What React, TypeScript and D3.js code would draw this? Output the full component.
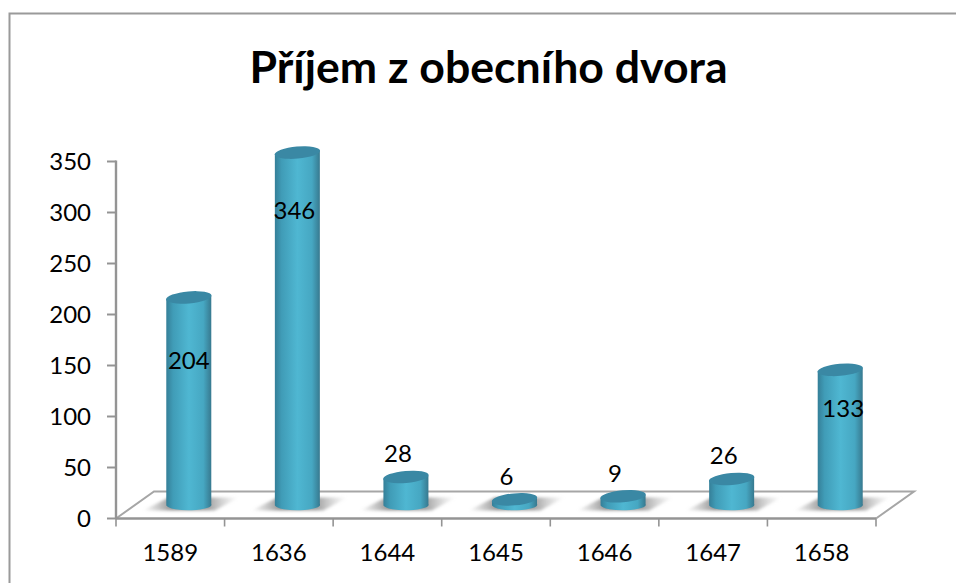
import React from "react";
import * as d3 from "d3";

const title = "Příjem z obecního dvora";
const categories = ["1589", "1636", "1644", "1645", "1646", "1647", "1658"];
const values = [204, 346, 28, 6, 9, 26, 133];
const yTicks = [0, 50, 100, 150, 200, 250, 300, 350];

const W = 956, H = 583;
const axisX0 = 116, axisX1 = 876, axisY0 = 518.5, axisY1 = 161.5;
const depthX = 38, depthY = 27;
const barShift = 18.5;
const baseY = 505.5;
const font = "Lato, 'Open Sans', sans-serif";

// label placement, read per bar from the picture: [dx from bar centre, dy from bar top]
const insideLabelOffset: Record<number, [number, number]> = { 204: [0, 63], 346: [-3, 57], 133: [3, 38] };

const y = d3.scaleLinear().domain([0, 350]).range([axisY0, axisY1]);
const x = d3.scaleBand<string>().domain(categories).range([axisX0, axisX1]);
const barCx = (cat: string) => x(cat)! + x.bandwidth() / 2 + barShift;
const barTop = (v: number) => baseY - (y(0) - y(v));

function Bar({ v, cat }: { v: number; cat: string }) {
  const cx = barCx(cat);
  const rx = 22.5, ry = 5.5;
  const topY = barTop(v);
  const tilt = -5;
  const body = `M${cx - rx},${topY + 1.5} L${cx - rx},${baseY} A${rx},${ry} 0 0 0 ${cx + rx},${baseY - 1.5} L${cx + rx},${topY - 1.5} Z`;
  return (
    <g>
      <path
        d={`M${cx - 46},${baseY + 5} L${cx - 20},${baseY - 8} L${cx + 50},${baseY - 8} L${cx + 26},${baseY + 5} Z`}
        fill="url(#shadow)"
        filter="url(#blur)"
      />
      <path d={body} fill="url(#cyl)" />
      <ellipse cx={cx} cy={topY} rx={rx + 0.3} ry={ry + 0.5} fill="#3a88a4" transform={`rotate(${tilt} ${cx} ${topY})`} />
    </g>
  );
}

const labelPos = (v: number, cat: string) => {
  const cx = barCx(cat);
  const top = barTop(v);
  const inside = insideLabelOffset[v];
  return inside ? { lx: cx + inside[0], ly: top + inside[1] } : { lx: cx - 8, ly: top - 23.5 };
};

export default function App() {
  return (
    <svg width={W} height={H} viewBox={`0 0 ${W} ${H}`} style={{ position: "absolute", left: 0, top: 0, background: "#fff" }} fontFamily={font}>
      <defs>
        <linearGradient id="cyl" x1="0" x2="1" y1="0" y2="0">
          <stop offset="0" stopColor="#357f98" />
          <stop offset="0.15" stopColor="#409cb7" />
          <stop offset="0.5" stopColor="#4fb7d2" />
          <stop offset="0.82" stopColor="#46a7c2" />
          <stop offset="1" stopColor="#37788e" />
        </linearGradient>
        <linearGradient id="shadow" x1="0" x2="1" y1="0" y2="0">
          <stop offset="0" stopColor="#a0a0a0" stopOpacity="0" />
          <stop offset="0.3" stopColor="#949494" />
          <stop offset="0.68" stopColor="#a0a0a0" />
          <stop offset="1" stopColor="#c0c0c0" stopOpacity="0" />
        </linearGradient>
        <filter id="blur" x="-30%" y="-30%" width="160%" height="160%">
          <feGaussianBlur stdDeviation="1.4" />
        </filter>
      </defs>
      <path d={`M9.5,${H} L9.5,13.5 L${W},13.5`} fill="none" stroke="#9a9a9a" strokeWidth={2} />
      <text x={488.5} y={83} textAnchor="middle" fontSize={44.6} fontWeight={700} fill="#000">{title}</text>

      <path
        d={`M${axisX0},${axisY0} L${axisX0 + depthX},${axisY0 - depthY} L${axisX1 + depthX},${axisY0 - depthY} L${axisX1},${axisY0}`}
        fill="none" stroke="#a6a6a6" strokeWidth={2}
      />
      <line x1={axisX0} x2={axisX0} y1={axisY1 - 1} y2={axisY0} stroke="#949494" strokeWidth={2.4} />
      <line x1={axisX0} x2={axisX1} y1={axisY0} y2={axisY0} stroke="#949494" strokeWidth={2.4} />
      {yTicks.map((t) => (
        <g key={t}>
          <line x1={axisX0 - 9} x2={axisX0} y1={y(t)} y2={y(t)} stroke="#949494" strokeWidth={2} />
          <text x={91} y={y(t) + 8.5} textAnchor="end" fontSize={24} fill="#000">{t}</text>
        </g>
      ))}
      {[...categories.map((c) => x(c)!), axisX1].map((p, i) => (
        <line key={i} x1={p} x2={p} y1={axisY0} y2={axisY0 + 8} stroke="#949494" strokeWidth={1.6} />
      ))}
      {categories.map((c) => (
        <text key={c} x={x(c)! + x.bandwidth() / 2} y={561} textAnchor="middle" fontSize={24} fill="#000">{c}</text>
      ))}
      {values.map((v, i) => <Bar key={categories[i]} v={v} cat={categories[i]} />)}
      {values.map((v, i) => {
        const { lx, ly } = labelPos(v, categories[i]);
        return <text key={i} x={lx} y={ly + 9} textAnchor="middle" fontSize={24} fill="#000">{v}</text>;
      })}
    </svg>
  );
}
